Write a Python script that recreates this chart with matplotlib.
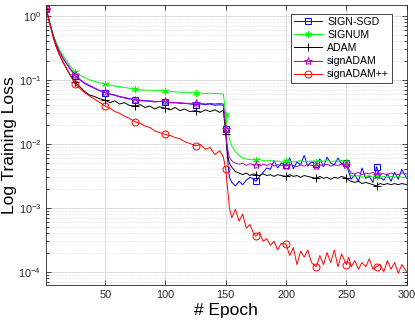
#import packages
import numpy as np
import matplotlib
matplotlib.use("Agg")
import matplotlib.pyplot as plt
from matplotlib.ticker import LogLocator, NullFormatter

plt.rcParams['font.family'] = ['Liberation Sans', 'DejaVu Sans']
plt.rcParams['mathtext.fontset'] = 'custom'
plt.rcParams['mathtext.rm'] = 'Liberation Sans'

epochs = [1, 2, 3, 4, 5, 7, 9, 12, 15, 18, 21,
          25, 29, 33, 37, 41, 45,
          50, 54, 58, 62, 66, 70,
          75, 79, 83, 87, 91, 95,
          100, 104, 108, 112, 116, 120,
          125, 129, 133, 137, 141, 145, 148,
          150, 151, 152, 153, 155, 158, 161, 164, 167, 170, 173,
          175, 178, 181, 184, 187, 190, 193, 196,
          200, 203, 206, 209, 212, 215, 218, 221,
          225, 228, 231, 234, 237, 240, 243, 246,
          250, 252, 254, 257, 260, 263, 266, 269, 272,
          275, 278, 281, 284, 287, 290, 293, 296, 300]

sign_sgd = [1.30, 1.10, 0.92, 0.78, 0.66, 0.49, 0.38, 0.28, 0.22, 0.18, 0.148,
            0.116, 0.100, 0.088, 0.080, 0.074, 0.068,
            0.063, 0.060, 0.058, 0.055, 0.053, 0.051,
            0.049, 0.048, 0.047, 0.047, 0.046, 0.046,
            0.045, 0.044, 0.044, 0.043, 0.043, 0.042,
            0.041, 0.042, 0.041, 0.042, 0.040, 0.041, 0.040,
            0.017, 0.008, 0.0045, 0.0030, 0.0025, 0.0022, 0.0026, 0.0023, 0.0027, 0.0030, 0.0028,
            0.0026, 0.0031, 0.0036, 0.0042, 0.0040, 0.0055, 0.0042, 0.0050,
            0.0046, 0.0060, 0.0041, 0.0052, 0.0047, 0.0066, 0.0045, 0.0052,
            0.0048, 0.0058, 0.0044, 0.0062, 0.0050, 0.0047, 0.0060, 0.0049,
            0.0050, 0.0036, 0.0028, 0.0033, 0.0026, 0.0042, 0.0029, 0.0031, 0.0025,
            0.0044, 0.0030, 0.0027, 0.0034, 0.0026, 0.0036, 0.0028, 0.0040, 0.0029]

signum = [1.30, 1.10, 0.92, 0.78, 0.66, 0.50, 0.40, 0.30, 0.24, 0.20, 0.165,
          0.134, 0.118, 0.108, 0.100, 0.095, 0.090,
          0.086, 0.083, 0.080, 0.078, 0.076, 0.074,
          0.071, 0.070, 0.069, 0.069, 0.068, 0.068,
          0.068, 0.066, 0.065, 0.064, 0.064, 0.063,
          0.062, 0.062, 0.061, 0.062, 0.061, 0.061, 0.060,
          0.028, 0.020, 0.015, 0.012, 0.0092, 0.0075, 0.0066, 0.0060, 0.0058, 0.0057, 0.0056,
          0.0056, 0.0057, 0.0055, 0.0054, 0.0055, 0.0053, 0.0054, 0.0052,
          0.0053, 0.0054, 0.0052, 0.0053, 0.0055, 0.0052, 0.0053, 0.0054,
          0.0052, 0.0055, 0.0053, 0.0056, 0.0052, 0.0054, 0.0053, 0.0055,
          0.0052, 0.0040, 0.0032, 0.0031, 0.0032, 0.0030, 0.0031, 0.0032, 0.0030,
          0.0031, 0.0030, 0.0031, 0.0030, 0.0031, 0.0030, 0.0031, 0.0030, 0.0030]

adam = [1.30, 1.10, 0.92, 0.78, 0.66, 0.46, 0.35, 0.25, 0.19, 0.15, 0.120,
        0.091, 0.078, 0.066, 0.058, 0.055, 0.051,
        0.048, 0.044, 0.047, 0.042, 0.044, 0.040,
        0.039, 0.041, 0.037, 0.039, 0.035, 0.038,
        0.036, 0.034, 0.037, 0.033, 0.035, 0.032,
        0.033, 0.031, 0.034, 0.032, 0.034, 0.031, 0.034,
        0.014, 0.0085, 0.0060, 0.0050, 0.0043, 0.0037, 0.0035, 0.0033, 0.0035, 0.0032, 0.0034,
        0.0033, 0.0032, 0.0034, 0.0032, 0.0033, 0.0031, 0.0033, 0.0032,
        0.0031, 0.0033, 0.0031, 0.0032, 0.0030, 0.0032, 0.0031, 0.0030,
        0.0029, 0.0031, 0.0029, 0.0030, 0.0028, 0.0030, 0.0029, 0.0031,
        0.0029, 0.0027, 0.0026, 0.0025, 0.0026, 0.0024, 0.0025, 0.0024, 0.0023,
        0.0022, 0.0024, 0.0023, 0.0024, 0.0023, 0.0024, 0.0023, 0.0024, 0.0023]

sign_adam = [1.30, 1.10, 0.92, 0.78, 0.66, 0.49, 0.38, 0.28, 0.22, 0.18, 0.150,
             0.120, 0.102, 0.090, 0.082, 0.075, 0.069,
             0.064, 0.060, 0.057, 0.054, 0.052, 0.050,
             0.048, 0.047, 0.047, 0.046, 0.045, 0.046,
             0.046, 0.044, 0.044, 0.044, 0.043, 0.043,
             0.043, 0.043, 0.042, 0.043, 0.042, 0.043, 0.042,
             0.017, 0.010, 0.0075, 0.0062, 0.0054, 0.0050, 0.0048, 0.0050, 0.0046, 0.0049, 0.0047,
             0.0047, 0.0045, 0.0048, 0.0046, 0.0049, 0.0045, 0.0047, 0.0046,
             0.0045, 0.0048, 0.0046, 0.0044, 0.0047, 0.0045, 0.0048, 0.0046,
             0.0045, 0.0047, 0.0046, 0.0048, 0.0045, 0.0047, 0.0046, 0.0048,
             0.0046, 0.0040, 0.0035, 0.0034, 0.0036, 0.0033, 0.0035, 0.0034, 0.0036,
             0.0033, 0.0035, 0.0034, 0.0033, 0.0035, 0.0034, 0.0033, 0.0035, 0.0034]

sign_adam_pp = [1.30, 1.10, 0.92, 0.78, 0.66, 0.45, 0.34, 0.25, 0.19, 0.15, 0.118,
                0.087, 0.073, 0.063, 0.056, 0.050, 0.045,
                0.039, 0.036, 0.032, 0.030, 0.027, 0.025,
                0.022, 0.021, 0.019, 0.018, 0.016, 0.015,
                0.014, 0.0135, 0.0125, 0.012, 0.0108, 0.0102,
                0.0093, 0.0098, 0.0082, 0.0088, 0.0068, 0.0078, 0.0062,
                0.0040, 0.0025, 0.0016, 0.0010, 0.00070, 0.00095, 0.00062, 0.00080, 0.00048, 0.00055, 0.00040,
                0.00036, 0.00042, 0.00030, 0.00033, 0.00026, 0.00030, 0.00022, 0.00028,
                0.00027, 0.00018, 0.00024, 0.00013, 0.00021, 0.00017, 0.00022, 0.00014,
                0.00012, 0.00018, 0.00013, 0.00020, 0.00014, 0.00022, 0.00012, 0.00019,
                0.00013, 0.00017, 0.00012, 0.00015, 0.00011, 0.00014, 0.00012, 0.00016, 0.00011,
                0.00012, 0.00013, 0.00010, 0.00015, 0.00011, 0.00014, 0.000095, 0.00013, 0.00010]

marker_epochs = [1, 25, 50, 75, 100, 125, 150, 175, 200, 225, 250, 275]
mark_idx = [epochs.index(e) for e in marker_epochs]

#plot
fig = plt.figure(figsize=(4.15, 3.27), dpi=100)
ax = fig.add_axes([0.111, 0.128, 0.869, 0.858])

ax.plot(epochs, sign_sgd, color='b', lw=0.7, marker='s', ms=4.5, mfc='none', mew=0.7, markevery=mark_idx, label='SIGN-SGD')
ax.plot(epochs, signum, color='#00ff00', lw=0.7, marker=(6, 2, 0), ms=5, mew=0.7, markevery=mark_idx, label='SIGNUM')
ax.plot(epochs, adam, color='k', lw=0.7, marker='+', ms=6, mew=0.7, markevery=mark_idx, label='ADAM')
ax.plot(epochs, sign_adam, color='m', lw=0.7, marker='*', ms=6, mfc='none', mew=0.7, markevery=mark_idx, label='signADAM')
ax.plot(epochs, sign_adam_pp, color='r', lw=0.7, marker='o', ms=5, mfc='none', mew=0.7, markevery=mark_idx, label='signADAM++')

ax.set_yscale('log')
ax.set_xlim(1, 300)
ax.set_ylim(6.2e-5, 1.5)
ax.set_xticks([50, 100, 150, 200, 250, 300])
ax.yaxis.set_major_locator(LogLocator(base=10, numticks=10))
ax.yaxis.set_minor_locator(LogLocator(base=10, subs=np.arange(2, 10), numticks=50))
ax.yaxis.set_minor_formatter(NullFormatter())

ax.grid(True, which='major', color='#d9d9d9', lw=0.6, ls='-')
ax.grid(True, which='minor', color='#cfcfcf', lw=0.5, ls=':')
ax.set_axisbelow(True)
ax.tick_params(which='both', direction='in', top=True, right=True, labelsize=7.8, colors='#262626', width=0.6)
ax.tick_params(which='major', length=3.5)
ax.tick_params(which='minor', length=2)
for s in ax.spines.values():
    s.set_color('#262626')
    s.set_linewidth(0.6)

ax.set_xlabel('# Epoch', fontsize=12.5, labelpad=2)
ax.set_ylabel('Log Training Loss', fontsize=12.5, labelpad=1)

leg = ax.legend(loc='upper right', bbox_to_anchor=(0.96, 0.968), fontsize=7.6, handlelength=2.6,
                fancybox=False, framealpha=1, edgecolor='#262626', borderpad=0.3,
                labelspacing=0.3, handletextpad=0.5, borderaxespad=0)
leg.get_frame().set_linewidth(0.6)

plt.savefig('out.png', dpi=100)
